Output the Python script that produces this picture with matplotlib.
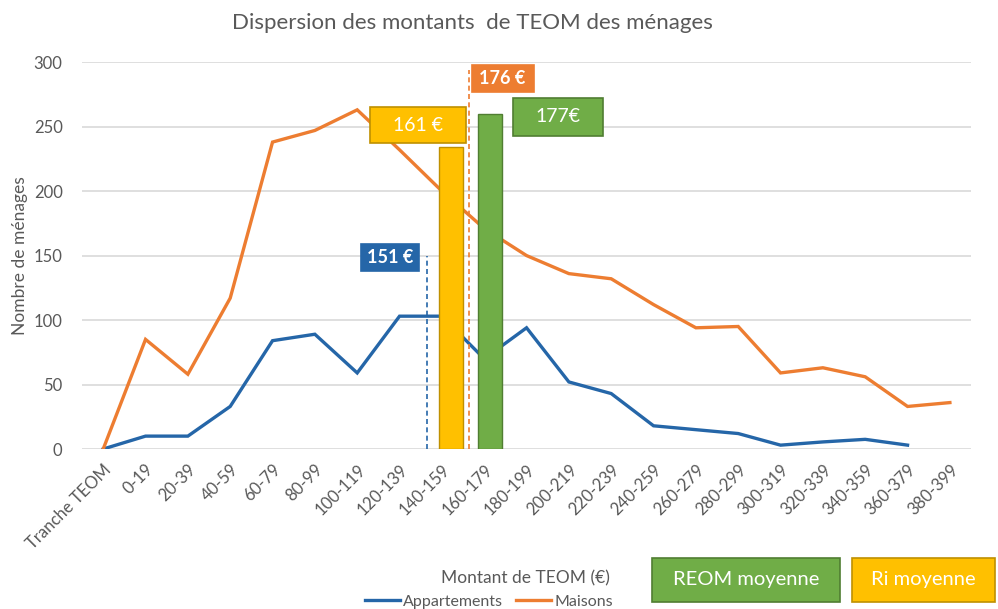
import numpy as np
import matplotlib
matplotlib.use("Agg")
import matplotlib.pyplot as plt
from matplotlib.patches import Rectangle
from matplotlib.lines import Line2D

plt.rcParams['font.family'] = ['Lato', 'DejaVu Sans']

# data
categories = ['Tranche TEOM', '0-19', '20-39', '40-59', '60-79', '80-99', '100-119',
              '120-139', '140-159', '160-179', '180-199', '200-219', '220-239',
              '240-259', '260-279', '280-299', '300-319', '320-339', '340-359',
              '360-379', '380-399']
appartements = [0, 10, 10, 33, 84, 89, 59, 103, 103, 70, 94, 52, 43, 18, 15, 12,
                3, 5.5, 7.5, 3, np.nan]
maisons = [0, 85, 58, 117, 238, 247, 263, 232, 200, 171, 150, 136, 132, 112, 94,
           95, 59, 63, 56, 33, 36]
mean_bars = [234, 260]                 # Ri moyenne, REOM moyenne
mean_labels = ['161 €', '177€']
mean_lines = [150, 294]                # appartements, maisons (dashed heights)
mean_line_labels = ['151 €', '176 €']

BLUE = '#2566A8'
ORANGE = '#ED7D31'
YELLOW = '#FFC000'
GREEN = '#70AD47'
GRAY = '#595959'

fig = plt.figure(figsize=(9.98, 6.09), dpi=100)
ax = fig.add_axes([0.0822, 0.2627, 0.8908, 0.6353])

x = np.arange(len(categories))
ax.plot(x, appartements, color=BLUE, lw=2.4, solid_joinstyle='miter', zorder=3)
ax.plot(x, maisons, color=ORANGE, lw=2.4, solid_joinstyle='miter', zorder=3)

# dashed mean lines
ax.vlines(7.66, 0, mean_lines[0], colors=BLUE, linestyles=(0, (3, 2)), lw=1.2, zorder=4)
ax.vlines(8.65, 0, mean_lines[1], colors=ORANGE, linestyles=(0, (3, 2)), lw=1.2, zorder=4)

# mean bars
ax.bar([8.21], [mean_bars[0]], width=0.57, color=YELLOW, edgecolor='#BF9000', lw=1, zorder=5)
ax.bar([9.14], [mean_bars[1]], width=0.57, color=GREEN, edgecolor='#507E32', lw=1, zorder=5)

def label_box(x0, x1, y0, y1, text, fc, ec, weight='normal', size=14):
    ax.add_patch(Rectangle((x0, y0), x1 - x0, y1 - y0, facecolor=fc, edgecolor=ec,
                           lw=1.2, zorder=6, clip_on=False))
    ax.text((x0 + x1) / 2, (y0 + y1) / 2, text, color='white', fontsize=size,
            fontweight=weight, ha='center', va='center', zorder=7)

label_box(6.31, 8.58, 237, 265, mean_labels[0], YELLOW, '#BF9000')
label_box(9.69, 11.80, 243, 272, mean_labels[1], GREEN, '#507E32')
label_box(6.08, 7.47, 138, 159, mean_line_labels[0], BLUE, BLUE, 'bold', 13)
label_box(8.70, 10.17, 277, 298, mean_line_labels[1], ORANGE, ORANGE, 'bold', 13)

ax.set_xlim(-0.5, 20.5)
ax.set_ylim(0, 300)
ax.set_yticks(range(0, 301, 50))
ax.grid(axis='y', color='#D9D9D9', lw=1.2)
ax.set_axisbelow(True)
for s in ax.spines.values():
    s.set_visible(False)
ax.tick_params(length=0, colors=GRAY, labelsize=12)
ax.tick_params(axis='y', pad=14)
ax.tick_params(axis='x', pad=9)
ax.set_xticks(x)
ax.set_xticklabels(categories, rotation=45, ha='right', va='top',
                   rotation_mode='anchor', fontsize=12)

ax.set_ylabel('Nombre de ménages', color=GRAY, fontsize=12.5, labelpad=4)
fig.text(0.473, 0.963, 'Dispersion des montants  de TEOM des ménages',
         color=GRAY, fontsize=16, ha='center', va='center')
fig.text(0.526, 0.051, 'Montant de TEOM (€)', color=GRAY, fontsize=12.5,
         ha='center', va='center')

handles = [Line2D([], [], color=BLUE, lw=2.4), Line2D([], [], color=ORANGE, lw=2.4)]
fig.legend(handles, ['Appartements', 'Maisons'], loc='center', ncol=2,
           bbox_to_anchor=(0.49, 0.012), frameon=False, fontsize=11.5,
           handlelength=2.2, handletextpad=0.2, columnspacing=0.8,
           labelcolor=GRAY)

# bottom boxes
for (x0, x1, text, fc, ec) in [(652, 840, 'REOM moyenne', GREEN, '#507E32'),
                               (852, 995, 'Ri moyenne', YELLOW, '#BF9000')]:
    fig.patches.append(Rectangle((x0 / 998, 1 - 602 / 609), (x1 - x0) / 998, 44 / 609,
                                 transform=fig.transFigure, facecolor=fc,
                                 edgecolor=ec, lw=1.2))
    fig.text((x0 + x1) / 2 / 998, 1 - 580 / 609, text, color='white', fontsize=14.5,
             ha='center', va='center')

fig.savefig('out.png', dpi=100)
